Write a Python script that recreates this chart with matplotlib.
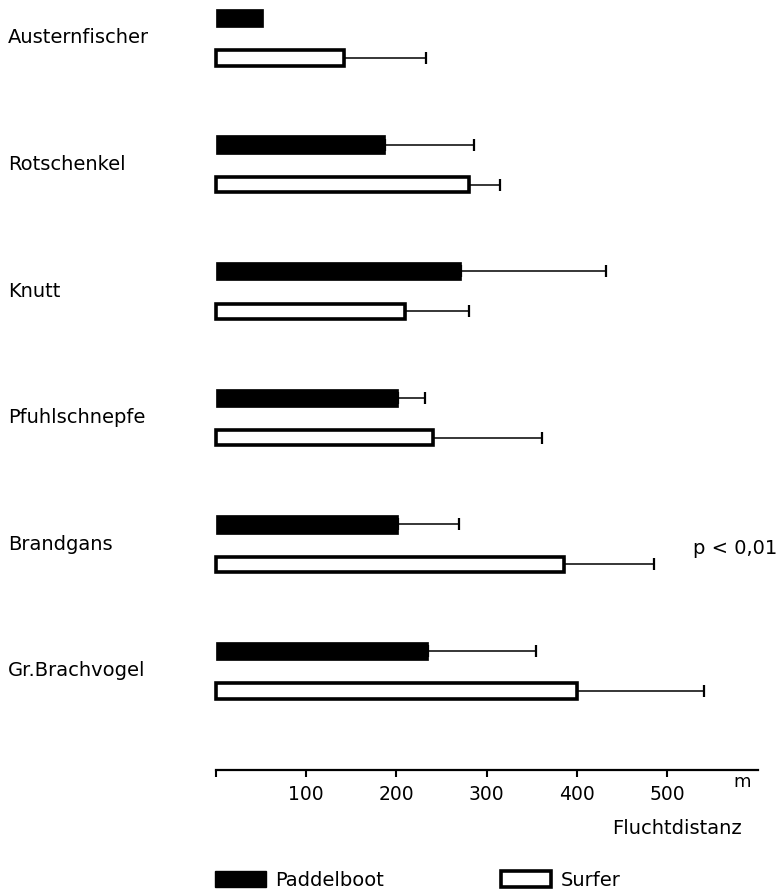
import matplotlib

matplotlib.use("Agg")
import matplotlib.pyplot as plt
import numpy as np
from matplotlib.patches import Patch
from matplotlib.transforms import blended_transform_factory

SPECIES = ["Austernfischer", "Rotschenkel", "Knutt", "Pfuhlschnepfe", "Brandgans", "Gr.Brachvogel"]
# Fluchtdistanz in m (mean) and one-sided SD
PADDEL_MEAN = [52, 187, 272, 202, 202, 235]
PADDEL_SD = [0, 99, 161, 30, 67, 120]
SURFER_MEAN = [142, 281, 210, 241, 386, 400]
SURFER_SD = [91, 34, 70, 121, 100, 141]
XTICKS = [0, 100, 200, 300, 400, 500]
XTICK_LABELS = ["", "100", "200", "300", "400", "500"]
SERIES_LABELS = ["Paddelboot", "Surfer"]

plt.rcParams["font.family"] = ["DejaVu Sans"]

W, H = 782, 894
fig = plt.figure(figsize=(W / 100, H / 100), dpi=100)
fig.patch.set_facecolor("white")

# axes: x zero at px 216, bottom spine at px 770
ax = fig.add_axes([216 / W, 1 - 770 / H, (758 - 216) / W, 770 / H])
ax.set_xlim(0, 601)
ax.set_ylim(5.782, -0.300)

y = np.arange(len(SPECIES))
off = 20 / 126.6
bars_p = ax.barh(y - off, PADDEL_MEAN, height=0.145, color="black", edgecolor="black",
                 linewidth=0.5, zorder=3)
bars_s = ax.barh(y + off, SURFER_MEAN, height=0.12, color="white", edgecolor="black",
                 linewidth=2.6, zorder=3)
for b in list(bars_p) + list(bars_s):
    b.set_clip_on(False)

p_sd = np.array(PADDEL_SD)
s_sd = np.array(SURFER_SD)
mask = p_sd > 0
ax.errorbar(np.array(PADDEL_MEAN)[mask], (y - off)[mask], xerr=[np.zeros(mask.sum()), p_sd[mask]],
            fmt="none", ecolor="black", elinewidth=1.1, capsize=4, capthick=1.6, zorder=2)
ax.errorbar(SURFER_MEAN, y + off, xerr=[np.zeros(len(s_sd)), s_sd],
            fmt="none", ecolor="black", elinewidth=1.1, capsize=4, capthick=1.6, zorder=2)

for side in ["top", "right", "left"]:
    ax.spines[side].set_visible(False)
ax.spines["bottom"].set_linewidth(1.6)
ax.set_yticks([])
ax.set_xticks(XTICKS)
ax.set_xticklabels(XTICK_LABELS, fontsize=13.5)
ax.tick_params(axis="x", direction="out", length=5, width=1.5, pad=6)

trans = blended_transform_factory(fig.transFigure, ax.transData)
for i, name in enumerate(SPECIES):
    ax.text(8 / W, i, name, transform=trans, ha="left", va="center", fontsize=14, clip_on=False)

fig.text(693 / W, 1 - 548 / H, "p < 0,01", ha="left", va="center", fontsize=14)
fig.text(742 / W, 1 - 782 / H, "m", ha="center", va="center", fontsize=13)
fig.text(742 / W, 1 - 828 / H, "Fluchtdistanz", ha="right", va="center", fontsize=14)

handles = [Patch(facecolor="black", edgecolor="black"),
           Patch(facecolor="white", edgecolor="black", linewidth=2.6)]
fig.legend(handles, SERIES_LABELS, loc="center left", bbox_to_anchor=(215 / W, 1 - 880 / H),
           ncol=2, frameon=False, fontsize=14, handlelength=2.6, handleheight=0.9,
           handletextpad=0.5, columnspacing=6.0, borderpad=0, borderaxespad=0)

fig.savefig("out.png", dpi=100, facecolor="white")
